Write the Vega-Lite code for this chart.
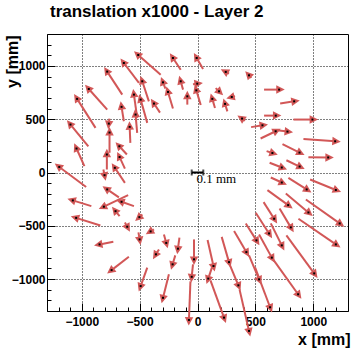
{
  "$schema": "https://vega.github.io/schema/vega-lite/v6.json",
  "width": 301,
  "height": 277,
  "autosize": {"type": "none"},
  "padding": {"left": 47, "top": 34, "right": 12, "bottom": 41},
  "background": "white",
  "title": {"text": "translation x1000 - Layer 2", "font": "Liberation Sans", "fontSize": 17, "fontWeight": "bold", "color": "black", "anchor": "start", "frame": "group", "baseline": "alphabetic", "offset": 0, "dx": 3},
  "config": {"view": {"stroke": "black", "strokeWidth": 1}},
  "datasets": {
    "arrows": [
      {"x": -512, "y": 1103, "x0": -318, "y0": 918},
      {"x": -212, "y": 1075, "x0": -145, "y0": 965},
      {"x": -7, "y": 1075, "x0": 48, "y0": 972},
      {"x": -636, "y": 1028, "x0": -506, "y0": 841},
      {"x": 244, "y": 944, "x0": 272, "y0": 928},
      {"x": 445, "y": 912, "x0": 465, "y0": 888},
      {"x": 705, "y": 778, "x0": 575, "y0": 778},
      {"x": 835, "y": 668, "x0": 714, "y0": 647},
      {"x": 676, "y": 534, "x0": 575, "y0": 534},
      {"x": 993, "y": 497, "x0": 829, "y0": 497},
      {"x": 385, "y": 506, "x0": 411, "y0": 487},
      {"x": 561, "y": 443, "x0": 463, "y0": 426},
      {"x": 675, "y": 387, "x0": 545, "y0": 319},
      {"x": 777, "y": 384, "x0": 670, "y0": 398},
      {"x": 1189, "y": 293, "x0": 915, "y0": 314},
      {"x": 647, "y": 183, "x0": 597, "y0": 201},
      {"x": 881, "y": 187, "x0": 734, "y0": 267},
      {"x": 1129, "y": 141, "x0": 958, "y0": 143},
      {"x": 728, "y": 47, "x0": 623, "y0": 91},
      {"x": 882, "y": 56, "x0": 768, "y0": 115},
      {"x": 728, "y": -94, "x0": 633, "y0": -47},
      {"x": 943, "y": -159, "x0": 785, "y0": -50},
      {"x": 1195, "y": -164, "x0": 973, "y0": -66},
      {"x": 783, "y": -306, "x0": 604, "y0": -166},
      {"x": 958, "y": -375, "x0": 763, "y0": -197},
      {"x": 1228, "y": -478, "x0": 936, "y0": -253},
      {"x": 662, "y": -434, "x0": 571, "y0": -278},
      {"x": 806, "y": -515, "x0": 709, "y0": -337},
      {"x": 1195, "y": -675, "x0": 872, "y0": -434},
      {"x": 618, "y": -572, "x0": 503, "y0": -378},
      {"x": 509, "y": -637, "x0": 417, "y0": -478},
      {"x": 728, "y": -684, "x0": 633, "y0": -478},
      {"x": 422, "y": -747, "x0": 316, "y0": -550},
      {"x": 642, "y": -799, "x0": 532, "y0": -581},
      {"x": 1008, "y": -947, "x0": 768, "y0": -590},
      {"x": 272, "y": -841, "x0": 209, "y0": -604},
      {"x": 138, "y": -878, "x0": 87, "y0": -633},
      {"x": 93, "y": -996, "x0": 125, "y0": -890},
      {"x": 353, "y": -1059, "x0": 281, "y0": -872},
      {"x": 532, "y": -1003, "x0": 445, "y0": -778},
      {"x": 869, "y": -1143, "x0": 653, "y0": -815},
      {"x": 627, "y": -1265, "x0": 497, "y0": -890},
      {"x": 229, "y": -1362, "x0": 112, "y0": -1012},
      {"x": 445, "y": -1487, "x0": 363, "y0": -1097},
      {"x": -74, "y": -1384, "x0": -61, "y0": -1022},
      {"x": -298, "y": 846, "x0": -277, "y0": 787},
      {"x": -255, "y": 756, "x0": -212, "y0": 600},
      {"x": -145, "y": 856, "x0": -125, "y0": 778},
      {"x": -2, "y": 834, "x0": -39, "y0": 829},
      {"x": -10, "y": 771, "x0": 28, "y0": 633},
      {"x": 186, "y": 762, "x0": 157, "y0": 792},
      {"x": 296, "y": 709, "x0": 324, "y0": 717},
      {"x": 128, "y": 691, "x0": 151, "y0": 606},
      {"x": 238, "y": 644, "x0": 258, "y0": 574},
      {"x": -88, "y": 715, "x0": -88, "y0": 637},
      {"x": -376, "y": 647, "x0": -324, "y0": 562},
      {"x": -780, "y": 947, "x0": -650, "y0": 731},
      {"x": -477, "y": 856, "x0": -420, "y0": 668},
      {"x": -939, "y": 784, "x0": -780, "y0": 590},
      {"x": -1040, "y": 691, "x0": -881, "y0": 419},
      {"x": -549, "y": 731, "x0": -521, "y0": 513},
      {"x": -491, "y": 684, "x0": -434, "y0": 466},
      {"x": -656, "y": 616, "x0": -636, "y0": 481},
      {"x": -535, "y": 544, "x0": -521, "y0": 372},
      {"x": -1097, "y": 450, "x0": -943, "y0": 246},
      {"x": -766, "y": 459, "x0": -761, "y0": 506},
      {"x": -760, "y": 375, "x0": -760, "y0": 185},
      {"x": -586, "y": 428, "x0": -580, "y0": 278},
      {"x": -1045, "y": 225, "x0": -977, "y0": 59},
      {"x": -675, "y": 246, "x0": -610, "y0": 169},
      {"x": -783, "y": 169, "x0": -783, "y0": 28},
      {"x": -673, "y": 145, "x0": -627, "y0": 37},
      {"x": -714, "y": 44, "x0": -627, "y0": -97},
      {"x": -1194, "y": 52, "x0": -962, "y0": -136},
      {"x": -803, "y": -25, "x0": -813, "y0": 28},
      {"x": -780, "y": -159, "x0": -679, "y0": -234},
      {"x": -1077, "y": -262, "x0": -917, "y0": -316},
      {"x": -809, "y": -321, "x0": -599, "y0": -213},
      {"x": -656, "y": -275, "x0": -549, "y0": -316},
      {"x": -708, "y": -363, "x0": -673, "y0": -410},
      {"x": -1048, "y": -426, "x0": -839, "y0": -497},
      {"x": -502, "y": -419, "x0": -476, "y0": -394},
      {"x": -607, "y": -509, "x0": -627, "y0": -469},
      {"x": -500, "y": -628, "x0": -510, "y0": -562},
      {"x": -405, "y": -553, "x0": -376, "y0": -534},
      {"x": -270, "y": -661, "x0": -290, "y0": -581},
      {"x": -169, "y": -715, "x0": -156, "y0": -612},
      {"x": -846, "y": -675, "x0": -727, "y0": -651},
      {"x": -359, "y": -768, "x0": -333, "y0": -722},
      {"x": -215, "y": -862, "x0": -192, "y0": -778},
      {"x": -30, "y": -815, "x0": -30, "y0": -628},
      {"x": -742, "y": -916, "x0": -593, "y0": -790},
      {"x": -491, "y": -1066, "x0": -434, "y0": -893},
      {"x": -298, "y": -1176, "x0": -247, "y0": -956},
      {"x": -50, "y": -979, "x0": -39, "y0": -862}
    ],
    "scalebar": [
      {"bx1": -50, "bx2": 50, "bxc": 0, "by": 0, "label": "0.1 mm"}
    ]
  },
  "resolve": {"axis": {"x": "independent", "y": "independent"}},
  "layer": [
    {
      "data": {"name": "arrows"},
      "mark": {"type": "rule", "color": "#d25757", "strokeWidth": 2},
      "encoding": {
        "x": {"field": "x0", "type": "quantitative",
          "scale": {"domain": [-1300, 1300], "nice": false, "zero": false},
          "axis": {"orient": "bottom", "values": [-1000, -500, 0, 500, 1000], "format": "d",
            "labelFont": "Liberation Sans", "labelFontWeight": "bold", "labelFontSize": 12, "labelColor": "black",
            "labelPadding": 13, "tickSize": -8, "tickColor": "black", "tickWidth": 1,
            "domainColor": "black", "domainWidth": 1,
            "grid": true, "gridColor": "black", "gridDash": [1, 2], "gridOpacity": 1, "gridWidth": 1,
            "title": "x [mm]", "titleFont": "Liberation Sans", "titleFontSize": 16, "titleFontWeight": "bold", "titleColor": "black",
            "titleAnchor": "end", "titleAlign": "right", "titleBaseline": "alphabetic", "titleX": 303, "titleY": 33}},
        "x2": {"field": "x"},
        "y": {"field": "y0", "type": "quantitative",
          "scale": {"domain": [-1300, 1300], "nice": false, "zero": false},
          "axis": {"orient": "left", "values": [-1000, -500, 0, 500, 1000], "format": "d",
            "labelFont": "Liberation Sans", "labelFontWeight": "bold", "labelFontSize": 12, "labelColor": "black",
            "labelPadding": 10, "tickSize": -8, "tickColor": "black", "tickWidth": 1,
            "domainColor": "black", "domainWidth": 1,
            "grid": true, "gridColor": "black", "gridDash": [1, 2], "gridOpacity": 1, "gridWidth": 1,
            "title": "y [mm]", "titleFont": "Liberation Sans", "titleFontSize": 16, "titleFontWeight": "bold", "titleColor": "black",
            "titleAnchor": "end", "titleAngle": 270, "titleAlign": "right", "titleBaseline": "alphabetic", "titleX": -30, "titleY": 1}},
        "y2": {"field": "y"}
      }
    },
    {
      "data": {"name": "arrows"},
      "transform": [
        {"calculate": "atan2(-(datum.y - datum.y0) * 277, (datum.x - datum.x0) * 301) * 180 / PI", "as": "ang"}
      ],
      "mark": {"type": "point", "shape": "M-0.67,-1L1.33,0L-0.67,1Z", "filled": true, "color": "#d25757", "opacity": 1, "size": 72},
      "encoding": {
        "x": {"field": "x", "type": "quantitative",
          "axis": {"orient": "bottom", "values": [-1200, -1100, -900, -800, -700, -600, -400, -300, -200, -100, 100, 200, 300, 400, 600, 700, 800, 900, 1100, 1200],
            "labels": false, "domain": false, "grid": false, "tickSize": -4, "tickColor": "black", "tickWidth": 1, "title": null}},
        "y": {"field": "y", "type": "quantitative",
          "axis": {"orient": "left", "values": [-1200, -1100, -900, -800, -700, -600, -400, -300, -200, -100, 100, 200, 300, 400, 600, 700, 800, 900, 1100, 1200],
            "labels": false, "domain": false, "grid": false, "tickSize": -4, "tickColor": "black", "tickWidth": 1, "title": null}},
        "angle": {"field": "ang", "type": "quantitative", "scale": null}
      }
    },
    {
      "data": {"name": "arrows"},
      "mark": {"type": "point", "shape": "square", "filled": true, "color": "black", "opacity": 1, "size": 4},
      "encoding": {
        "x": {"field": "x", "type": "quantitative", "axis": null},
        "y": {"field": "y", "type": "quantitative", "axis": null}
      }
    },
    {
      "data": {"name": "scalebar"},
      "mark": {"type": "rule", "color": "black", "strokeWidth": 2},
      "encoding": {
        "x": {"field": "bx1", "type": "quantitative", "axis": null},
        "x2": {"field": "bx2"},
        "y": {"field": "by", "type": "quantitative", "axis": null}
      }
    },
    {
      "data": {"name": "scalebar"},
      "mark": {"type": "tick", "orient": "vertical", "color": "black", "thickness": 2, "size": 6},
      "encoding": {
        "x": {"field": "bx1", "type": "quantitative", "axis": null},
        "y": {"field": "by", "type": "quantitative", "axis": null}
      }
    },
    {
      "data": {"name": "scalebar"},
      "mark": {"type": "tick", "orient": "vertical", "color": "black", "thickness": 2, "size": 6},
      "encoding": {
        "x": {"field": "bx2", "type": "quantitative", "axis": null},
        "y": {"field": "by", "type": "quantitative", "axis": null}
      }
    },
    {
      "data": {"name": "scalebar"},
      "mark": {"type": "text", "font": "Liberation Serif", "fontSize": 13, "color": "black", "align": "left", "baseline": "alphabetic", "dy": 10, "dx": -1},
      "encoding": {
        "x": {"field": "bxc", "type": "quantitative", "axis": null},
        "y": {"field": "by", "type": "quantitative", "axis": null},
        "text": {"field": "label"}
      }
    }
  ]
}
